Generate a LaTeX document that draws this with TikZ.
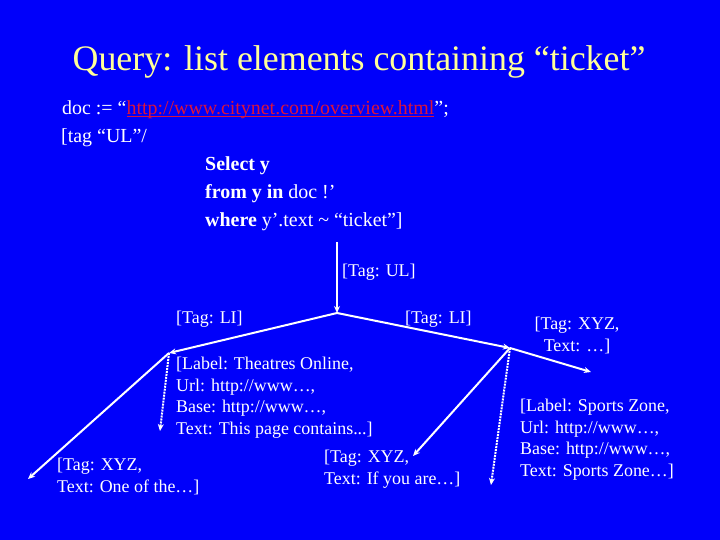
\documentclass[tikz,border=0pt]{standalone}
\usepackage{fontspec}
\setmainfont{Liberation Serif}
\usetikzlibrary{arrows.meta}
\definecolor{slideblue}{RGB}{0,0,250}
\definecolor{titleyellow}{RGB}{255,255,153}
\definecolor{urlred}{RGB}{220,20,60}

\begin{document}
\begin{tikzpicture}[x=1bp, y=-1bp, >={Stealth[length=7bp,width=6bp]},
  txt/.style={text=white, inner sep=0pt, font=\fontsize{18}{21.6}\selectfont, align=left},
  code/.style={text=white, inner sep=0pt, font=\fontsize{20}{24}\selectfont, anchor=base west},
  edge/.style={->, white, line width=2bp},
  link/.style={->, white, line width=2bp, densely dotted}]
  % slide
  \fill[slideblue] (0,0) rectangle (720,540);
  \useasboundingbox (0,0) rectangle (720,540);

  % Title
  \node[anchor=base, text=titleyellow, inner sep=0pt, font=\fontsize{36}{40}\selectfont] (title) at (359,71) {Query: list elements containing “ticket”};

  % Query
  \node[code] (doc) at (62,115) {doc := “{\color{urlred}\underline{\smash{http://www.citynet.com/overview.html}}}”;};
  \node[code] (tagul) at (61,143) {[tag “UL”/};
  \node[code] (sel) at (205,171) {\textbf{Select y}};
  \node[code] (from) at (205,199) {\textbf{from y in} doc !’};
  \node[code] (where) at (205,227) {\textbf{where} y’.text \textasciitilde{} “ticket”]};

  % Tree
  \coordinate (top) at (337,242);
  \coordinate (ul) at (337,313);
  \coordinate (li1) at (169,353);
  \coordinate (li2) at (510,348);
  \coordinate (xyz1) at (28,479);
  \coordinate (lab1) at (160,431);
  \coordinate (xyz2) at (413,456);
  \coordinate (lab2) at (491,485);
  \coordinate (xyz3) at (591,372);

  \draw[edge] (top) -- (ul);
  \draw[edge] (ul) -- (li1);
  \draw[edge] (ul) -- (li2);
  \draw[edge] (li1) -- (xyz1);
  \draw[link] (li1) -- (lab1);
  \draw[edge] (li2) -- (xyz2);
  \draw[link] (li2) -- (lab2);
  \draw[edge] (li2) -- (xyz3);

  % Labels
  \node[txt, anchor=base west] (ultag) at (342,277) {[Tag: UL]};
  \node[txt, anchor=base west] (litag1) at (176,323) {[Tag: LI]};
  \node[txt, anchor=base west] (litag2) at (405,323) {[Tag: LI]};
  \node[txt, anchor=north west] (theatres) at (176,357) {[Label: Theatres Online,\\Url: http://www…,\\Base: http://www…,\\Text: This page contains...]};
  \node[txt, anchor=north west] (oneof) at (57,458) {[Tag: XYZ,\\Text: One of the…]};
  \node[txt, anchor=north west] (ifyou) at (324,450) {[Tag: XYZ,\\Text: If you are…]};
  \node[txt, anchor=north west] (sports) at (520,399) {[Label: Sports Zone,\\Url: http://www…,\\Base: http://www…,\\Text: Sports Zone…]};
  \node[txt, anchor=north, align=center] (dots) at (577,317) {[Tag: XYZ,\\Text: …]};
\end{tikzpicture}
\end{document}
